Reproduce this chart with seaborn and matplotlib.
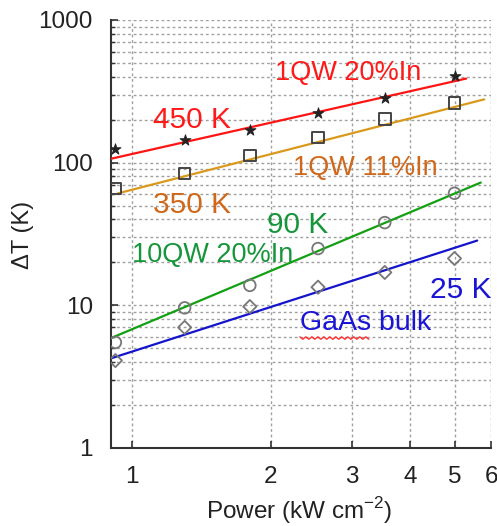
import numpy as np
import pandas as pd
import matplotlib
matplotlib.use("Agg")
import matplotlib.pyplot as plt
import seaborn as sns

# Measured temperature rise versus excitation power
power = [0.92, 1.3, 1.8, 2.53, 3.53, 5.0]
dT_1qw20 = [125, 143, 170, 224, 285, 406]     # 1QW 20%In
dT_1qw11 = [66, 84, 112, 150, 203, 263]       # 1QW 11%In
dT_10qw20 = [5.5, 9.6, 13.8, 25, 38, 61]      # 10QW 20%In
dT_bulk = [4.1, 7.0, 9.8, 13.4, 17, 21.3]     # GaAs bulk

# Power-law fits dT = A * P^n  (A at 1 kW cm^-2)
fit_amp = [115, 64.6, 6.8, 4.74]
fit_exp = [0.73, 0.83, 1.36, 1.04]
fit_pmin = [0.9, 0.93, 0.9, 0.9]
fit_pmax = [5.3, 5.8, 5.7, 5.6]

sample_labels = ["1QW 20%In", "1QW 11%In", "10QW 20%In", "GaAs bulk"]
temp_labels = ["450 K", "350 K", "90 K", "25 K"]

x_ticks = [1, 2, 3, 4, 5, 6]
y_ticks = [1, 10, 100, 1000]

sns.set_style("white")
plt.rcParams["font.family"] = ["Liberation Sans", "DejaVu Sans"]

fig = plt.figure(figsize=(4.97, 5.26), dpi=100)
ax = fig.add_axes([0.2233, 0.1483, 0.7647, 0.8137])
ax.set_xscale("log")
ax.set_yscale("log")
ax.set_xlim(0.9, 6.0)
ax.set_ylim(1, 1000)

# grid
grid_kw = dict(color="#a0a0a0", lw=1.0, ls=(0, (2.0, 2.0)))
ax.yaxis.grid(True, which="both", **grid_kw)
ax.xaxis.grid(True, which="major", **grid_kw)
ax.set_axisbelow(True)

line_colors = ["#ff1414", "#d99a1c", "#12a012", "#1414cc"]

for A, n, p0, p1, c in zip(fit_amp, fit_exp, fit_pmin, fit_pmax, line_colors):
    p = np.geomspace(p0, p1, 60)
    sns.lineplot(x=p, y=A * p ** n, color=c, lw=1.6, ax=ax, zorder=3)

sns.scatterplot(x=power, y=dT_1qw20, marker="*", s=70, color="#222222",
                edgecolor="#222222", linewidth=0.6, ax=ax, zorder=4)
sns.scatterplot(x=power, y=dT_1qw11, marker="s", s=70, facecolor="none",
                edgecolor="#444444", linewidth=1.4, ax=ax, zorder=4)
sns.scatterplot(x=power, y=dT_10qw20, marker="o", s=70, facecolor="none",
                edgecolor="#777777", linewidth=1.3, ax=ax, zorder=4)
sns.scatterplot(x=power, y=dT_bulk, marker="D", s=45, facecolor="none",
                edgecolor="#777777", linewidth=1.3, ax=ax, zorder=4)

# annotations (baseline-anchored)
red_t, orange_t, green_t, blue_t = "#ff1a1a", "#d0681c", "#16963a", "#1a14d4"
txt = dict(ha="left", va="baseline")
ax.text(2.04, 380, sample_labels[0], color=red_t, fontsize=19.5, **txt)
ax.text(1.11, 175, temp_labels[0], color=red_t, fontsize=21.5, **txt)
ax.text(2.23, 82, sample_labels[1], color=orange_t, fontsize=19.5, **txt)
ax.text(1.11, 44.3, temp_labels[1], color=orange_t, fontsize=21.5, **txt)
ax.text(1.96, 32.1, temp_labels[2], color=green_t, fontsize=21.5, **txt)
ax.text(1.0, 20.1, sample_labels[2], color=green_t, fontsize=19.5, **txt)
ax.text(4.42, 11.25, temp_labels[3], color=blue_t, fontsize=21.5, **txt)
ax.text(2.31, 6.71, sample_labels[3], color=blue_t, fontsize=20.5, **txt)

# wavy underline beneath the first word of the last label
fig.canvas.draw()
probe = ax.text(2.31, 6.71, sample_labels[3].split()[0], fontsize=20.5,
                alpha=0, **txt)
bb = probe.get_window_extent(renderer=fig.canvas.get_renderer())
probe.remove()
xs = np.arange(bb.x0, bb.x1 + 0.1, 3.0)
ys = bb.y0 - 2 + np.where(np.arange(len(xs)) % 2 == 0, 1.2, -1.2)
inv = ax.transData.inverted()
pts = inv.transform(np.column_stack([xs, ys]))
ax.plot(pts[:, 0], pts[:, 1], color="#ff3030", lw=1.0, zorder=5)

# axes styling
for side in ["top", "right"]:
    ax.spines[side].set_visible(False)
for side in ["left", "bottom"]:
    ax.spines[side].set_color("#333333")
    ax.spines[side].set_linewidth(1.5)

ax.set_xticks(x_ticks)
ax.set_xticklabels([str(v) for v in x_ticks])
ax.xaxis.set_minor_locator(matplotlib.ticker.NullLocator())
ax.set_yticks(y_ticks)
ax.set_yticklabels([str(v) for v in y_ticks])
ax.tick_params(axis="both", which="major", direction="in", length=5, width=1.2,
               color="#333333", labelsize=17.5, labelcolor="#222222",
               left=True, bottom=True)
ax.tick_params(axis="y", which="minor", direction="in", length=3, width=1.0,
               color="#333333", left=True)
ax.tick_params(axis="y", pad=13)
ax.tick_params(axis="x", pad=13)

ax.set_xlabel("Power (kW cm$^{\\mathregular{-2}}$)", fontsize=17.5, color="#222222")
ax.xaxis.set_label_coords(0.496, -0.145)
ax.xaxis.label.set_va("center")
ax.set_ylabel("ΔT (K)", fontsize=17, color="#222222")
ax.yaxis.set_label_coords(-0.232, 0.498)
ax.yaxis.label.set_va("center")

fig.savefig("out.png", dpi=100)
